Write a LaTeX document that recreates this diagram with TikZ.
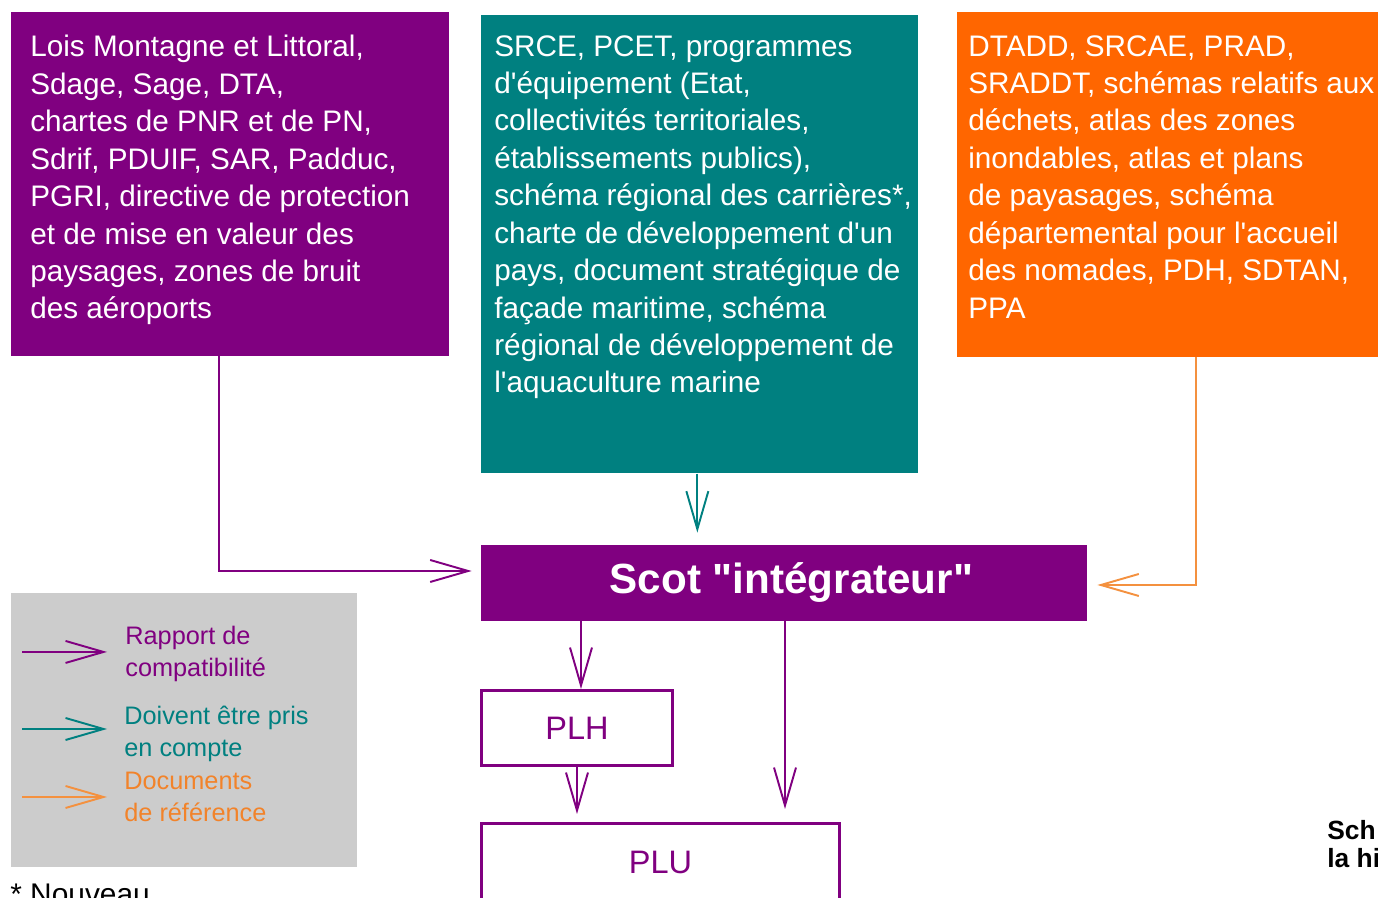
\documentclass[tikz,border=0pt]{standalone}
\usepackage{fontspec}
\setmainfont{Liberation Sans}[Ligatures=TeXReset]
\usetikzlibrary{arrows.meta}

\definecolor{pur}{HTML}{800080}
\definecolor{tea}{HTML}{008080}
\definecolor{ora}{HTML}{FF6600}
\definecolor{oraline}{HTML}{F4913F}
\definecolor{legora}{HTML}{F2832A}
\definecolor{leggray}{HTML}{CCCCCC}

\begin{document}
\begin{tikzpicture}[
		box/.style={anchor=north west,inner sep=0pt},
		boxtext/.style={anchor=north west,inner sep=0pt,align=left,text=white,
			font=\fontsize{16.9}{21.3}\selectfont},
		legtext/.style={anchor=north west,inner sep=0pt,align=left,
			font=\fontsize{14.4}{18}\selectfont},
		doc/.style={draw=pur,line width=1.7pt,text=pur,font=\fontsize{18.5}{22}\selectfont},
		comp/.style={draw=pur,line width=1.1pt,-{Straight Barb[length=0.76cm,width=0.44cm]}},
		acc/.style={comp,draw=tea},
		ref/.style={comp,draw=oraline}]
	\useasboundingbox (0,0) rectangle (27.56,17.96);
	\clip (0,0) rectangle (27.56,17.96);
	% the three families of documents above the Scot
	\node[box,fill=pur,minimum width=8.76cm,minimum height=6.88cm] (lois) at (0.22,17.72) {};
	\node[boxtext] (loistxt) at (0.6,17.26) {Lois Montagne et Littoral,\\Sdage, Sage, DTA,\\chartes de PNR et de PN,\\Sdrif, PDUIF, SAR, Padduc,\\PGRI, directive de protection\\et de mise en valeur des\\paysages, zones de bruit\\des aéroports};
	\node[box,fill=tea,minimum width=8.74cm,minimum height=9.16cm] (srce) at (9.62,17.66) {};
	\node[boxtext] (srcetxt) at (9.88,17.26) {SRCE, PCET, programmes\\d'équipement (Etat,\\collectivités territoriales,\\établissements publics),\\schéma régional des carrières*,\\charte de développement d'un\\pays, document stratégique de\\façade maritime, schéma\\régional de développement de\\l'aquaculture marine};
	\node[box,fill=ora,minimum width=9cm,minimum height=6.9cm] (dtadd) at (19.14,17.72) {};
	\node[boxtext] (dtaddtxt) at (19.36,17.26) {DTADD, SRCAE, PRAD,\\SRADDT, schémas relatifs aux\\déchets, atlas des zones\\inondables, atlas et plans\\de payasages, schéma\\départemental pour l'accueil\\des nomades, PDH, SDTAN,\\PPA};
	% the Scot and the plans below it
	\node[fill=pur,minimum width=12.12cm,minimum height=1.52cm,text=white,
		font=\bfseries\fontsize{24}{28}\selectfont] (scot) at (15.68,6.30) {\hspace{0.3cm}Scot "intégrateur"};
	\node[doc,minimum width=3.82cm,minimum height=1.5cm] (plh) at (11.54,3.40) {PLH};
	\node[doc,minimum width=7.16cm,minimum height=1.54cm] (plu) at (13.21,0.72) {PLU};
	\coordinate (loisout) at (4.38,10.84);
	\coordinate (dtaddout) at (23.92,10.82);
	\coordinate (scotout) at (15.70,5.54);
	\draw[comp,shorten >=0.18cm] (loisout) |- ([yshift=0.24cm]scot.west);
	\draw[acc,shorten >=0.24cm] ([xshift=-0.05cm]srce.south) -- ([xshift=-0.05cm]srce.south |- scot.north);
	\draw[ref,shorten >=0.2cm] (dtaddout) |- ([yshift=-0.04cm]scot.east);
	\draw[comp] ([xshift=0.08cm]plh.north |- scot.south) -- ([xshift=0.08cm]plh.north);
	\draw[comp,shorten >=0.16cm] (plh.south) -- (plh.south |- plu.north);
	\draw[comp,shorten >=0.26cm] (scotout) -- (scotout |- plu.north);
	% legend
	\node[box,fill=leggray,minimum width=6.92cm,minimum height=5.48cm] (leg) at (0.22,6.1) {};
	\node[legtext,text=pur] (rapport) at (2.5,5.44) {Rapport de\\compatibilité};
	\node[legtext,text=tea] (compte) at (2.48,3.84) {Doivent être pris\\en compte};
	\node[legtext,text=legora] (reference) at (2.48,2.52) {Documents\\de référence};
	\draw[comp] ([shift={(-2.06,0.04)}]rapport.west) -- ([shift={(-0.36,0.04)}]rapport.west);
	\draw[acc] ([shift={(-2.04,0.1)}]compte.west) -- ([shift={(-0.34,0.1)}]compte.west);
	\draw[ref] ([shift={(-2.04,0)}]reference.west) -- ([shift={(-0.34,0)}]reference.west);
	\node[anchor=north west,inner sep=0pt,font=\fontsize{17}{20}\selectfont] (nouveau) at (0.2,0.28) {* Nouveau};
	\node[anchor=north west,inner sep=0pt,align=left,
		font=\bfseries\fontsize{15}{16}\selectfont] (titre) at (26.54,1.56) {Sch\\la hi};
\end{tikzpicture}
\end{document}
